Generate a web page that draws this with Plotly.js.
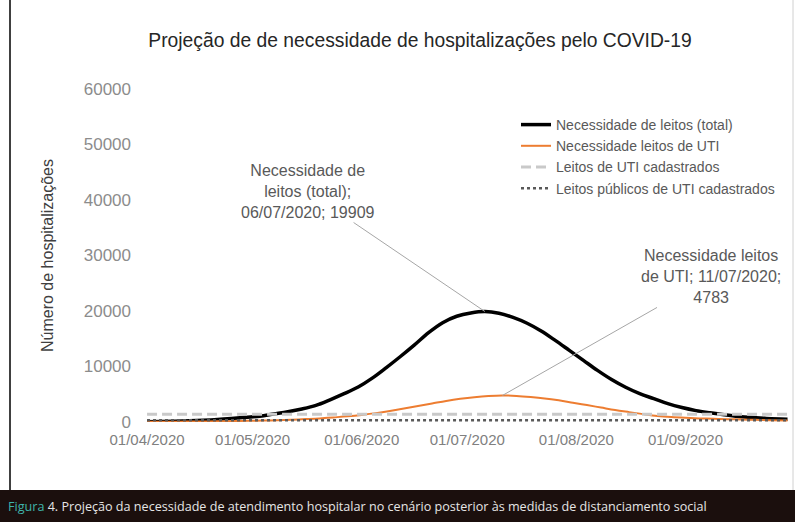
<!DOCTYPE html>
<html>
<head>
<meta charset="utf-8">
<script src="https://cdn.plot.ly/plotly-3.0.1.min.js"></script>
<style>
  html, body { margin: 0; padding: 0; background: #ffffff; }
  #chart { width: 795px; height: 522px; }
</style>
</head>
<body>
<div id="chart"></div>
<script>
// ---- data ----
const datesTotal = ['2020-04-01','2020-04-05','2020-04-09','2020-04-13','2020-04-17','2020-04-21','2020-04-25','2020-04-29',
  '2020-05-03','2020-05-07','2020-05-11','2020-05-15','2020-05-19','2020-05-23','2020-05-27','2020-05-31',
  '2020-06-04','2020-06-08','2020-06-12','2020-06-16','2020-06-20','2020-06-24','2020-06-28',
  '2020-07-02','2020-07-06','2020-07-10','2020-07-14','2020-07-18','2020-07-22','2020-07-26','2020-07-30',
  '2020-08-03','2020-08-07','2020-08-11','2020-08-15','2020-08-19','2020-08-23','2020-08-27','2020-08-31',
  '2020-09-04','2020-09-08','2020-09-12','2020-09-16','2020-09-20','2020-09-24','2020-09-28','2020-09-30'];
const leitosTotal = [50, 90, 140, 210, 300, 430, 620, 840,
  1050, 1450, 1850, 2350, 3000, 4000, 5100, 6300,
  7900, 9800, 11800, 13900, 16100, 17900, 19050,
  19650, 19909, 19600, 18850, 17800, 16400, 14700, 12900,
  11100, 9300, 7650, 6250, 5100, 4200, 3300, 2600,
  2050, 1650, 1300, 1000, 800, 650, 520, 480];

const datesUTI = ['2020-04-01','2020-04-06','2020-04-10','2020-04-14','2020-04-18','2020-04-22','2020-04-26','2020-04-30',
  '2020-05-04','2020-05-08','2020-05-12','2020-05-16','2020-05-20','2020-05-24','2020-05-28',
  '2020-06-01','2020-06-05','2020-06-09','2020-06-13','2020-06-17','2020-06-21','2020-06-25','2020-06-29',
  '2020-07-03','2020-07-07','2020-07-11','2020-07-15','2020-07-19','2020-07-23','2020-07-27','2020-07-31',
  '2020-08-04','2020-08-08','2020-08-12','2020-08-16','2020-08-20','2020-08-24','2020-08-28',
  '2020-09-01','2020-09-05','2020-09-09','2020-09-13','2020-09-17','2020-09-21','2020-09-25','2020-09-30'];
const leitosUTI = [30, 45, 60, 80, 105, 135, 165, 205,
  250, 310, 400, 520, 650, 830, 1020,
  1280, 1600, 2000, 2450, 2900, 3350, 3800, 4180,
  4480, 4690, 4783, 4700, 4510, 4250, 3900, 3480,
  3050, 2600, 2150, 1780, 1420, 1100, 900,
  760, 650, 580, 510, 450, 390, 330, 250];

const periodo = ['2020-04-01', '2020-09-30'];
const utiCadastrados = 1400;
const utiPublicos = 300;

const seriesNames = ['Necessidade de leitos (total)', 'Necessidade leitos de UTI', 'Leitos de UTI cadastrados', 'Leitos públicos de UTI cadastrados'];
const tickDates = ['2020-04-01','2020-05-01','2020-06-01','2020-07-01','2020-08-01','2020-09-01'];
const tickLabels = ['01/04/2020','01/05/2020','01/06/2020','01/07/2020','01/08/2020','01/09/2020'];
const yTicks = [0, 10000, 20000, 30000, 40000, 50000, 60000];
const yTickLabels = ['0', '10000', '20000', '30000', '40000', '50000', '60000'];

const picoTotal = {date: '2020-07-06', value: 19909, label: 'Necessidade de<br>leitos (total);<br>06/07/2020; 19909'};
const picoUTI = {date: '2020-07-11', value: 4783, label: 'Necessidade leitos<br>de UTI; 11/07/2020;<br>4783'};

const titleText = 'Projeção de de necessidade de hospitalizações pelo COVID-19';
const yTitle = 'Número de hospitalizações';
const captionText = '<span style="color:#3fb3aa">Figura</span> 4. Projeção da necessidade de atendimento hospitalar no cenário posterior às medidas de distanciamento social';

// ---- layout geometry ----
const W = 795, H = 522;
const M = {l: 145, r: 5, t: 89, b: 100};
const pw = W - M.l - M.r, ph = H - M.t - M.b;
const px2x = px => (px - M.l) / pw;
const py2y = py => (H - M.b - py) / ph;

const FONT = 'Liberation Sans, Arial, sans-serif';

const traces = [
  {x: datesTotal, y: leitosTotal, name: seriesNames[0], type: 'scatter', mode: 'lines',
   line: {color: '#000000', width: 3.5, shape: 'spline', smoothing: 1}},
  {x: datesUTI, y: leitosUTI, name: seriesNames[1], type: 'scatter', mode: 'lines',
   line: {color: '#ED7D31', width: 2, shape: 'spline', smoothing: 1}},
  {x: periodo, y: periodo.map(() => utiCadastrados), name: seriesNames[2], type: 'scatter', mode: 'lines',
   line: {color: '#c9c9c9', width: 3, dash: '10px,5px'}},
  {x: periodo, y: periodo.map(() => utiPublicos), name: seriesNames[3], type: 'scatter', mode: 'lines',
   line: {color: '#595959', width: 2.5, dash: 'dot'}}
];

const layout = {
  width: W, height: H,
  margin: M,
  paper_bgcolor: '#ffffff', plot_bgcolor: '#ffffff',
  font: {family: FONT, color: '#595959'},
  showlegend: true,
  title: {text: titleText, x: 420 / W, xanchor: 'center', xref: 'container',
          y: 1 - 40 / H, yanchor: 'middle', yref: 'container',
          font: {family: FONT, size: 19.3, color: '#262626'}},
  xaxis: {type: 'date', range: ['2020-03-31 10:00', '2020-09-30 17:00'],
          tickmode: 'array', tickvals: tickDates, ticktext: tickLabels,
          showgrid: false, zeroline: false, showline: false, ticks: '',
          ticklabelstandoff: 7,
          tickfont: {family: FONT, size: 15, color: '#808080'}},
  yaxis: {range: [0, 60000], tickmode: 'array', tickvals: yTicks, ticktext: yTickLabels,
          showgrid: false, zeroline: false, showline: false, ticks: '',
          ticklabelstandoff: 13,
          tickfont: {family: FONT, size: 17, color: '#8c8c8c'},
          title: {text: yTitle, standoff: 26, font: {family: FONT, size: 16, color: '#404040'}}},
  legend: {x: px2x(516), xanchor: 'left', y: py2y(109), yanchor: 'top',
           bgcolor: 'rgba(0,0,0,0)', borderwidth: 0, tracegroupgap: 0,
           font: {family: FONT, size: 14, color: '#595959'}},
  annotations: [
    {x: picoTotal.date, y: picoTotal.value, xref: 'x', yref: 'y', text: picoTotal.label,
     showarrow: true, arrowhead: 0, arrowwidth: 1, arrowcolor: '#a6a6a6', ax: -177, ay: -120,
     align: 'center', font: {family: FONT, size: 16, color: '#595959'}},
    {x: picoUTI.date, y: picoUTI.value, xref: 'x', yref: 'y', text: picoUTI.label,
     showarrow: true, arrowhead: 0, arrowwidth: 1, arrowcolor: '#a6a6a6', ax: 209, ay: -119,
     align: 'center', font: {family: FONT, size: 16, color: '#595959'}},
    {x: px2x(6), y: py2y(507), xref: 'paper', yref: 'paper', xanchor: 'left', yanchor: 'middle',
     text: captionText, showarrow: false, align: 'left',
     font: {family: 'Open Sans, sans-serif', size: 12.6, color: '#e6e6e6'}}
  ],
  shapes: [
    {type: 'rect', xref: 'paper', yref: 'paper', x0: px2x(0), x1: px2x(W), y0: py2y(H), y1: py2y(490),
     fillcolor: '#1b0f0d', line: {width: 0}, layer: 'below'},
    {type: 'line', xref: 'paper', yref: 'paper', x0: px2x(10), x1: px2x(10), y0: py2y(490), y1: py2y(0),
     line: {color: '#000000', width: 1.5}},
    {type: 'line', xref: 'paper', yref: 'paper', x0: px2x(793), x1: px2x(793), y0: py2y(490), y1: py2y(0),
     line: {color: '#d0d0d0', width: 1}}
  ]
};

Plotly.newPlot('chart', traces, layout, {staticPlot: true, displayModeBar: false});
</script>
</body>
</html>
